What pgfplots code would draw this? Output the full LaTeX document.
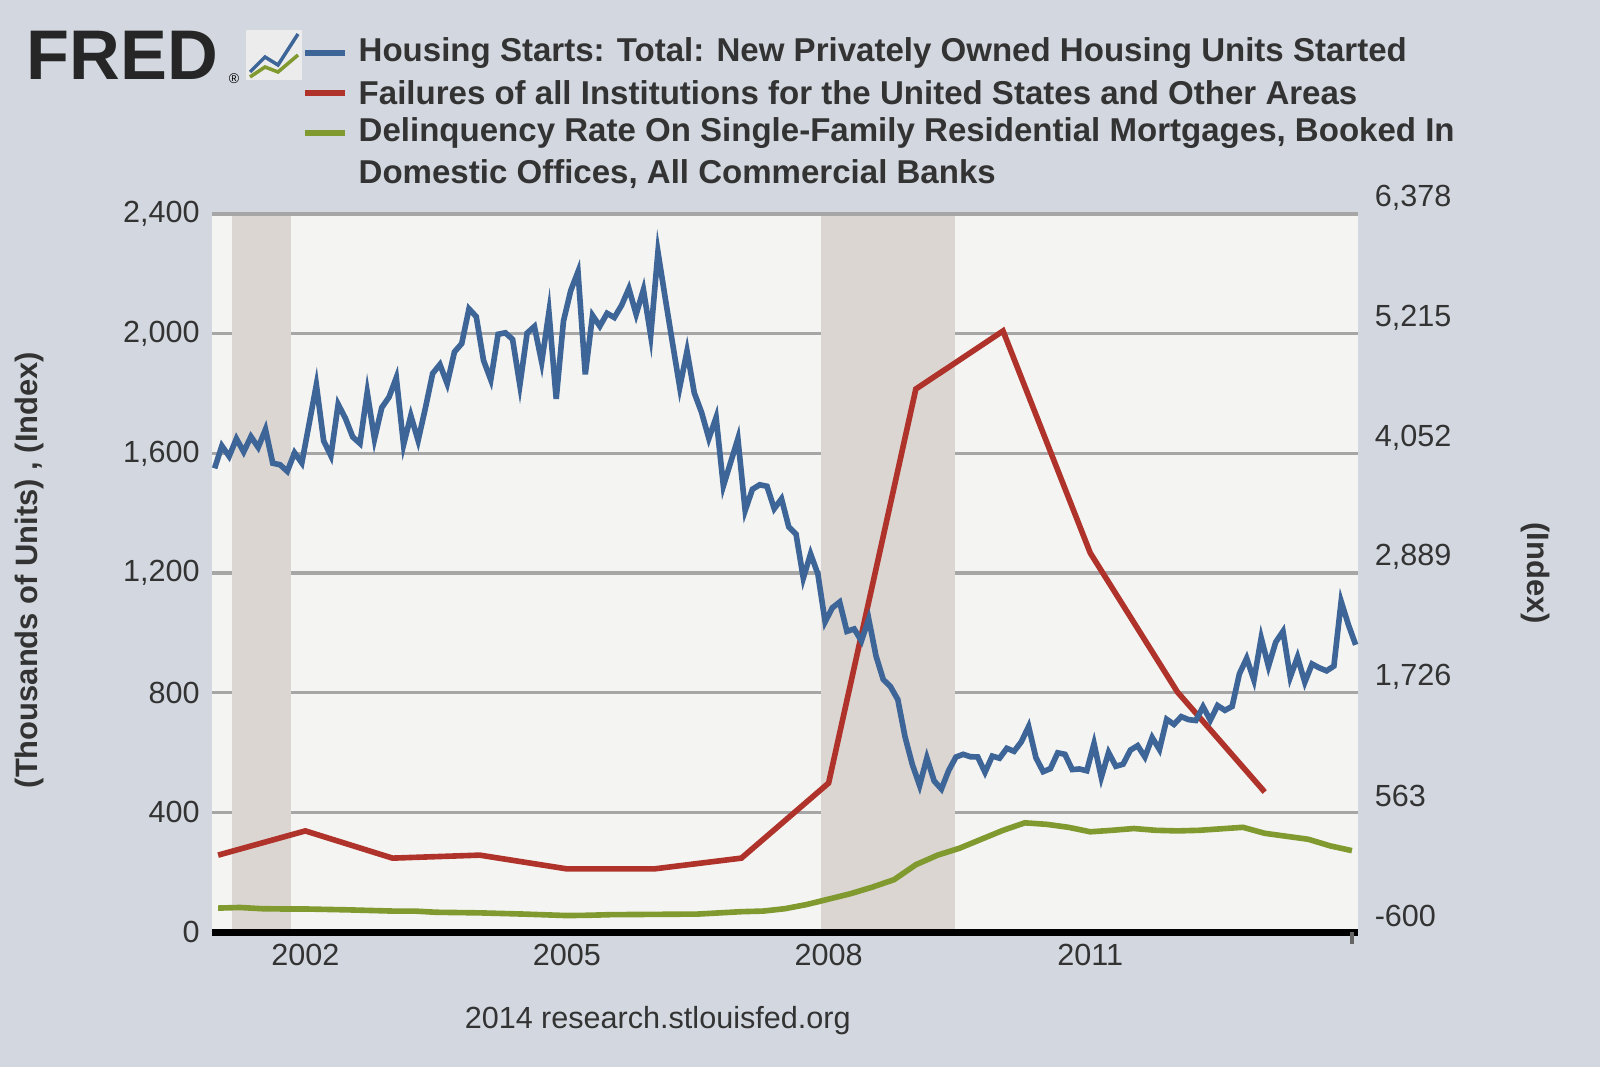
\documentclass[border=0pt]{standalone}
\usepackage{pgfplots}
\pgfplotsset{compat=1.18}
\usepackage{fontspec}
\setmainfont{Liberation Sans}
\definecolor{bgout}{HTML}{D3D8E0}
\definecolor{bgin}{HTML}{F4F4F2}
\definecolor{rec}{HTML}{DCD6D2}
\definecolor{fblue}{HTML}{3E6597}
\definecolor{fred}{HTML}{B0332B}
\definecolor{fgreen}{HTML}{819A2F}
\definecolor{txt}{HTML}{333333}
\begin{document}
\begin{tikzpicture}[x=1cm,y=1cm]
\useasboundingbox (0,0) rectangle (16,10.67);
\fill[bgout] (0,0) rectangle (16,10.67);
% FRED logo
\node[anchor=west,inner sep=0,font=\fontsize{20}{20}\selectfont\bfseries,text=black!85] at (0.26,10.12) {FRED};
\node[inner sep=0,font=\fontsize{4}{4}\selectfont] at (2.34,9.88) {\textregistered};
\fill[white!85!gray] (2.46,9.87) rectangle (3.02,10.37);
\draw[fblue,line width=1pt] (2.5,9.95)--(2.65,10.1)--(2.78,10.02)--(2.98,10.33);
\draw[fgreen,line width=1pt] (2.5,9.9)--(2.65,10.0)--(2.78,9.95)--(2.98,10.12);
% legend
\begin{scope}[font=\fontsize{9.4}{11.3}\selectfont\bfseries,text=txt]
\draw[fblue,line width=1.6pt] (3.05,10.14)--(3.45,10.14);
\node[anchor=west,inner sep=0] at (3.58,10.14) {Housing Starts: Total: New Privately Owned Housing Units Started};
\draw[fred,line width=1.6pt] (3.05,9.74)--(3.45,9.74);
\node[anchor=west,inner sep=0] at (3.58,9.74) {Failures of all Institutions for the United States and Other Areas};
\draw[fgreen,line width=1.6pt] (3.05,9.34)--(3.45,9.34);
\node[anchor=north west,inner sep=0,align=left] at (3.58,9.5) {Delinquency Rate On Single-Family Residential Mortgages, Booked In\\[0.5pt]Domestic Offices, All Commercial Banks};
\end{scope}
\node[rotate=90,font=\fontsize{8.8}{10}\selectfont\bfseries,text=txt] at (0.3,4.97) {(Thousands of Units) , (Index)};
\begin{axis}[at={(2.12cm,1.35cm)},anchor=south west,scale only axis,
 width=11.46cm,height=7.18cm,
 xmin=2000.93,xmax=2014.07,ymin=0,ymax=2400,
 axis background/.style={fill=bgin},
 axis line style={draw=none},
 ytick={0,400,800,1200,1600,2000,2400},
 xtick={2002,2005,2008,2011},
 xtick style={draw=none},
 ytick style={draw=none},
 ymajorgrids, grid style={draw=black!35,line width=0.9pt},
 /pgf/number format/assume math mode=true,
 yticklabel style={/pgf/number format/1000 sep={,},font=\fontsize{8.7}{10}\selectfont,text=txt},
 xticklabel style={/pgf/number format/1000 sep={},font=\fontsize{8.7}{10}\selectfont,text=txt},
 clip=false,
]
\fill[rec] (axis cs:2001.16,0) rectangle (axis cs:2001.84,2400);
\fill[rec] (axis cs:2007.91,0) rectangle (axis cs:2009.45,2400);
\draw[black!35,line width=0.9pt] (axis cs:2000.93,2400)--(axis cs:2014.07,2400);
\draw[black,line width=2pt] (axis cs:2000.93,0)--(axis cs:2014.07,0);
\draw[black!60,line width=1pt] (axis cs:2014.0,0)--(axis cs:2014.0,-40);
\node[anchor=west,font=\fontsize{8.7}{10}\selectfont,text=txt] at (axis cs:2014.12,53.5) {-600};
\node[anchor=west,font=\fontsize{8.7}{10}\selectfont,text=txt] at (axis cs:2014.12,453.5) {563};
\node[anchor=west,font=\fontsize{8.7}{10}\selectfont,text=txt] at (axis cs:2014.12,853.5) {1,726};
\node[anchor=west,font=\fontsize{8.7}{10}\selectfont,text=txt] at (axis cs:2014.12,1253.5) {2,889};
\node[anchor=west,font=\fontsize{8.7}{10}\selectfont,text=txt] at (axis cs:2014.12,1653.5) {4,052};
\node[anchor=west,font=\fontsize{8.7}{10}\selectfont,text=txt] at (axis cs:2014.12,2053.5) {5,215};
\node[anchor=west,font=\fontsize{8.7}{10}\selectfont,text=txt] at (axis cs:2014.12,2453.5) {6,378};
\node[rotate=-90,font=\fontsize{8.8}{10}\selectfont\bfseries,text=txt] at (axis cs:2016.1,1200) {(Index)};
\node[font=\fontsize{8.7}{10}\selectfont,text=txt] at (axis cs:2006.04,-295) {2014 research.stlouisfed.org};
\addplot[fgreen,line width=1.6pt] coordinates {
(2001.0,80)(2001.25,82)(2001.5,78)(2001.75,77)(2002,77)(2002.5,74)(2003,70)(2003.25,70)(2003.5,66)(2004,64)(2004.5,60)(2005,55)(2005.25,56)(2005.5,58)(2006,59)(2006.5,60)(2007,68)(2007.25,70)(2007.5,78)(2007.75,92)(2008,110)(2008.25,128)(2008.5,150)(2008.75,175)(2009,225)(2009.25,257)(2009.5,280)(2009.75,310)(2010,340)(2010.25,365)(2010.5,360)(2010.75,350)(2011,335)(2011.25,340)(2011.5,346)(2011.75,340)(2012,338)(2012.25,340)(2012.5,345)(2012.75,350)(2013,330)(2013.25,320)(2013.5,310)(2013.75,288)(2014.0,272)};
\addplot[fred,line width=1.6pt] coordinates {
(2001,257)(2002,338)(2003,247)(2004,257)(2005,211)(2006,211)(2007,247)(2008,498)(2009,1815)(2010,2009)(2011,1267)(2012,802)(2013,468)};
\addplot[fblue,line width=1.6pt] table[x expr={2000.96+\coordindex/12},y index=0] {
y
1550
1625
1590
1649
1605
1656
1620
1680
1567
1562
1540
1602
1568
1698
1829
1642
1592
1764
1717
1655
1633
1804
1648
1753
1788
1853
1629
1726
1643
1751
1867
1897
1833
1939
1967
2083
2057
1911
1846
1998
2003
1981
1828
2002
2024
1905
2072
1782
2042
2144
2207
1864
2061
2025
2068
2054
2095
2151
2065
2147
1994
2273
2119
1969
1821
1942
1802
1737
1650
1720
1491
1570
1649
1409
1480
1495
1490
1415
1448
1354
1330
1183
1264
1197
1037
1084
1103
1005
1013
973
1046
923
844
820
777
652
560
490
582
505
478
540
585
594
586
585
534
588
581
614
604
636
687
583
536
546
599
594
543
545
539
630
517
600
554
561
608
623
585
650
610
711
694
720
710
707
753
708
757
741
754
863
915
842
983
888
969
1005
852
919
835
896
883
873
889
1105
1027
960
};
\end{axis}
\end{tikzpicture}
\end{document}
